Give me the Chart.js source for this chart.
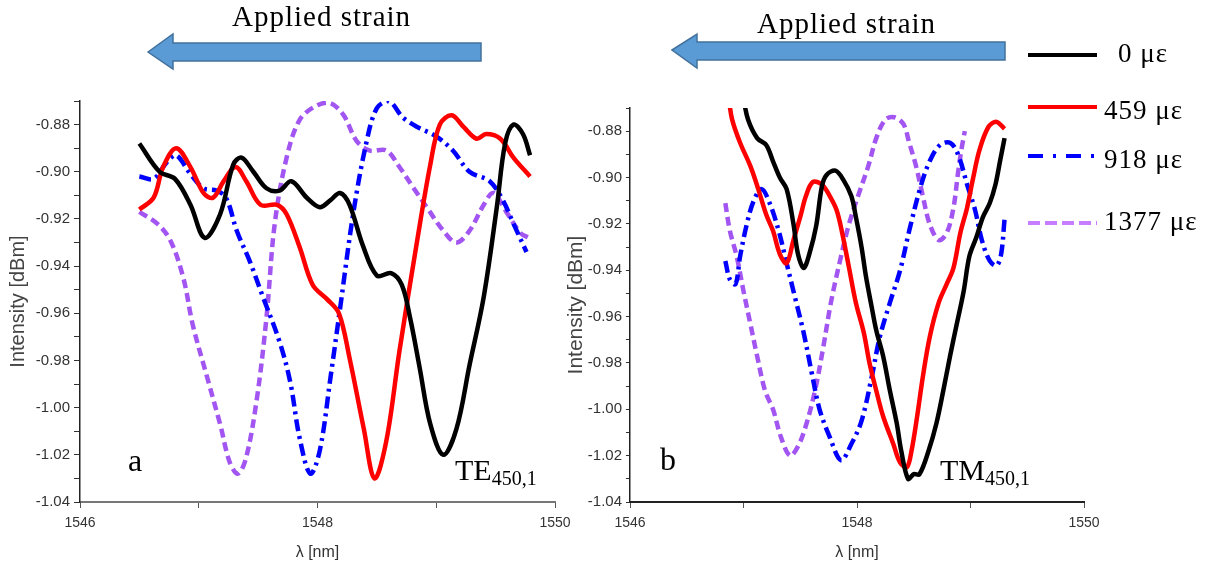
<!DOCTYPE html>
<html>
<head>
<meta charset="utf-8">
<script src="https://cdn.jsdelivr.net/npm/chart.js"></script>
<style>
  body { margin: 0; background: #fff; }
  #wrap { position: relative; width: 1210px; height: 567px; overflow: hidden; }
  canvas { position: absolute; top: 0; }
  #chartTE { left: 0; }
  #chartTM { left: 560px; }
  #deco { position: absolute; left: 0; top: 0; }
  .txt { position: absolute; font-family: "Liberation Serif", serif; color: #000; white-space: nowrap; line-height: 1; }
  .txt sub { font-size: 20px; vertical-align: -5px; }
</style>
</head>
<body>
<div id="wrap">
  <canvas id="chartTE" width="580" height="567"></canvas>
  <canvas id="chartTM" width="650" height="567"></canvas>

  <svg id="deco" width="1210" height="567">
    <!-- strain arrows -->
    <polygon points="148,52 173,34 173,43 481,43 481,61 173,61 173,69" fill="#5b9bd5" stroke="#41719c" stroke-width="1.5"/>
    <polygon points="672,50 697,34 697,42 1005,42 1005,60 697,60 697,68" fill="#5b9bd5" stroke="#41719c" stroke-width="1.5"/>
    <!-- legend lines -->
    <line x1="1028" y1="55" x2="1097" y2="55" stroke="#000" stroke-width="4"/>
    <line x1="1028" y1="107" x2="1097" y2="107" stroke="#ff0000" stroke-width="4"/>
    <line x1="1028" y1="156" x2="1100" y2="156" stroke="#0000ff" stroke-width="4" stroke-dasharray="15 10 3 10"/>
    <line x1="1028" y1="223" x2="1097" y2="223" stroke="#c77dff" stroke-width="4" stroke-dasharray="12 5"/>
  </svg>

  <div class="txt" style="left:232px; top:2px; font-size:29px; letter-spacing:1px;">Applied strain</div>
  <div class="txt" style="left:757px; top:9px; font-size:29px; letter-spacing:1px;">Applied strain</div>

  <div class="txt" style="left:1118px; top:40px; font-size:27px; letter-spacing:1px;">0 με</div>
  <div class="txt" style="left:1104px; top:97px; font-size:27px; letter-spacing:1px;">459 με</div>
  <div class="txt" style="left:1104px; top:146px; font-size:27px; letter-spacing:1px;">918 με</div>
  <div class="txt" style="left:1104px; top:208px; font-size:27px; letter-spacing:1px;">1377 με</div>

  <div class="txt" style="left:128px; top:444px; font-size:32px;">a</div>
  <div class="txt" style="left:660px; top:443px; font-size:32px;">b</div>
  <div class="txt" style="left:455px; top:455px; font-size:30px;">TE<sub>450,1</sub></div>
  <div class="txt" style="left:940px; top:455px; font-size:30px;">TM<sub>450,1</sub></div>
</div>

<script>
// TE450,1 panel (a)
const teX0 = [1546.50, 1546.67, 1546.80, 1546.93, 1547.05, 1547.18, 1547.29, 1547.36, 1547.46, 1547.57, 1547.68, 1547.78, 1547.91, 1548.02, 1548.11, 1548.19, 1548.27, 1548.38, 1548.50, 1548.62, 1548.71, 1548.78, 1548.86, 1548.95, 1549.06, 1549.17, 1549.28, 1549.40, 1549.51, 1549.58, 1549.65, 1549.73, 1549.79];
const teY0 = [-0.888, -0.900, -0.903, -0.914, -0.928, -0.918, -0.897, -0.894, -0.900, -0.907, -0.908, -0.904, -0.911, -0.915, -0.912, -0.909, -0.914, -0.931, -0.944, -0.943, -0.948, -0.962, -0.983, -1.007, -1.020, -1.009, -0.982, -0.953, -0.915, -0.888, -0.880, -0.884, -0.893];

const teX459 = [1546.50, 1546.62, 1546.70, 1546.81, 1546.93, 1547.04, 1547.12, 1547.21, 1547.31, 1547.40, 1547.52, 1547.66, 1547.74, 1547.85, 1547.96, 1548.08, 1548.18, 1548.27, 1548.39, 1548.48, 1548.58, 1548.69, 1548.84, 1548.95, 1549.03, 1549.13, 1549.23, 1549.34, 1549.42, 1549.54, 1549.65, 1549.79];
const teY459 = [-0.916, -0.911, -0.898, -0.890, -0.898, -0.909, -0.911, -0.904, -0.898, -0.904, -0.914, -0.914, -0.918, -0.932, -0.948, -0.954, -0.960, -0.979, -1.009, -1.030, -1.014, -0.976, -0.929, -0.897, -0.880, -0.876, -0.881, -0.886, -0.884, -0.886, -0.894, -0.902];

const teX918 = [1546.50, 1546.62, 1546.73, 1546.81, 1546.93, 1547.04, 1547.15, 1547.23, 1547.32, 1547.43, 1547.54, 1547.68, 1547.77, 1547.85, 1547.94, 1548.02, 1548.11, 1548.19, 1548.30, 1548.41, 1548.50, 1548.60, 1548.72, 1548.84, 1549.00, 1549.14, 1549.28, 1549.45, 1549.56, 1549.65, 1549.76];
const teY918 = [-0.902, -0.903, -0.896, -0.893, -0.901, -0.907, -0.908, -0.911, -0.925, -0.938, -0.953, -0.972, -0.989, -1.013, -1.028, -1.018, -0.987, -0.958, -0.918, -0.888, -0.873, -0.870, -0.877, -0.881, -0.885, -0.891, -0.900, -0.904, -0.912, -0.922, -0.934];

const teX1377 = [1546.50, 1546.65, 1546.76, 1546.87, 1546.95, 1547.07, 1547.18, 1547.26, 1547.33, 1547.40, 1547.49, 1547.57, 1547.64, 1547.74, 1547.85, 1547.99, 1548.11, 1548.22, 1548.33, 1548.44, 1548.58, 1548.69, 1548.81, 1548.92, 1549.06, 1549.17, 1549.28, 1549.40, 1549.48, 1549.59, 1549.71, 1549.78];
const teY1377 = [-0.917, -0.922, -0.929, -0.945, -0.965, -0.987, -1.007, -1.023, -1.028, -1.021, -0.996, -0.962, -0.922, -0.894, -0.878, -0.872, -0.871, -0.876, -0.887, -0.891, -0.891, -0.898, -0.907, -0.915, -0.925, -0.930, -0.925, -0.914, -0.909, -0.917, -0.926, -0.928];

// TM450,1 panel (b)
const tmX0 = [1547.00, 1547.04, 1547.12, 1547.20, 1547.26, 1547.32, 1547.38, 1547.44, 1547.48, 1547.53, 1547.58, 1547.64, 1547.69, 1547.73, 1547.81, 1547.88, 1547.95, 1547.99, 1548.04, 1548.08, 1548.13, 1548.17, 1548.23, 1548.29, 1548.35, 1548.39, 1548.45, 1548.50, 1548.55, 1548.63, 1548.70, 1548.76, 1548.82, 1548.88, 1548.94, 1548.99, 1549.05, 1549.11, 1549.17, 1549.22, 1549.26, 1549.30];
const tmY0 = [-0.866, -0.875, -0.883, -0.886, -0.893, -0.900, -0.905, -0.920, -0.933, -0.939, -0.933, -0.921, -0.904, -0.899, -0.897, -0.901, -0.908, -0.917, -0.930, -0.943, -0.956, -0.966, -0.977, -0.992, -1.006, -1.018, -1.030, -1.028, -1.028, -1.018, -1.006, -0.992, -0.977, -0.963, -0.949, -0.934, -0.926, -0.917, -0.911, -0.903, -0.893, -0.883];

const tmX459 = [1546.87, 1546.90, 1546.97, 1547.06, 1547.13, 1547.20, 1547.26, 1547.32, 1547.38, 1547.44, 1547.50, 1547.55, 1547.61, 1547.69, 1547.76, 1547.82, 1547.87, 1547.93, 1547.99, 1548.06, 1548.11, 1548.17, 1548.23, 1548.32, 1548.38, 1548.44, 1548.48, 1548.53, 1548.58, 1548.64, 1548.72, 1548.79, 1548.85, 1548.91, 1548.97, 1549.02, 1549.08, 1549.16, 1549.23, 1549.30];
const tmY459 = [-0.866, -0.875, -0.885, -0.895, -0.905, -0.916, -0.923, -0.933, -0.937, -0.927, -0.917, -0.908, -0.902, -0.903, -0.908, -0.914, -0.924, -0.939, -0.954, -0.967, -0.980, -0.992, -1.003, -1.015, -1.023, -1.025, -1.018, -1.003, -0.986, -0.969, -0.954, -0.946, -0.939, -0.924, -0.913, -0.901, -0.888, -0.878, -0.876, -0.879];

const tmX918 = [1546.84, 1546.88, 1546.93, 1546.97, 1547.03, 1547.09, 1547.16, 1547.23, 1547.31, 1547.38, 1547.45, 1547.53, 1547.60, 1547.67, 1547.76, 1547.86, 1547.95, 1548.04, 1548.13, 1548.20, 1548.29, 1548.38, 1548.46, 1548.56, 1548.64, 1548.73, 1548.82, 1548.89, 1548.97, 1549.04, 1549.10, 1549.17, 1549.23, 1549.27, 1549.30];
const tmY918 = [-0.936, -0.944, -0.946, -0.934, -0.920, -0.910, -0.905, -0.911, -0.923, -0.937, -0.951, -0.967, -0.984, -1.000, -1.012, -1.022, -1.015, -1.005, -0.986, -0.969, -0.954, -0.940, -0.923, -0.904, -0.893, -0.886, -0.885, -0.890, -0.903, -0.914, -0.927, -0.936, -0.938, -0.933, -0.918];

const tmX1377 = [1546.84, 1546.88, 1546.94, 1547.00, 1547.06, 1547.12, 1547.19, 1547.26, 1547.33, 1547.41, 1547.48, 1547.55, 1547.63, 1547.70, 1547.77, 1547.85, 1547.93, 1548.03, 1548.10, 1548.17, 1548.25, 1548.33, 1548.41, 1548.46, 1548.52, 1548.58, 1548.64, 1548.72, 1548.79, 1548.85, 1548.89, 1548.92, 1548.95];
const tmY1377 = [-0.911, -0.923, -0.934, -0.949, -0.963, -0.977, -0.992, -1.000, -1.012, -1.020, -1.016, -1.007, -0.992, -0.974, -0.954, -0.936, -0.920, -0.905, -0.895, -0.883, -0.875, -0.874, -0.877, -0.885, -0.895, -0.908, -0.920, -0.927, -0.924, -0.913, -0.898, -0.888, -0.880];

const strainLabels = ["0 με", "459 με", "918 με", "1377 με"];
const xTicks = [1546, 1548, 1550];

// zip x and y arrays into points
function pts(xs, ys) {
    return xs.map((x, i) => ({ x: x, y: ys[i] }));
}

function sets(series) {
    const colors = ["#000000", "#ff0000", "#0000ff", "#a355f2"];
    const dashes = [[], [], [12, 5, 3, 5], [9, 5]];
    return series.map((s, i) => ({
        label: strainLabels[i],
        data: pts(s[0], s[1]),
        borderColor: colors[i],
        borderWidth: 4.5,
        borderDash: dashes[i],
        pointRadius: 0,
        fill: false,
        tension: 0.35
    }));
}

function scales(yWidth, yTitleSize, yTitlePad, xBorder, yTickLen) {
    return {
        x: {
            type: "linear",
            min: 1546,
            max: 1550,
            ticks: {
                stepSize: 1,
                autoSkip: false,
                maxRotation: 0,
                padding: 7,
                color: "#333",
                font: { family: "Liberation Sans", size: 14 },
                callback: v => xTicks.includes(v) ? String(v) : ""
            },
            grid: { drawOnChartArea: false, tickLength: 6, color: "#555" },
            border: { color: xBorder, width: 2 },
            title: {
                display: true,
                text: "λ [nm]",
                color: "#333",
                font: { family: "Liberation Sans", size: 16 },
                padding: { top: 0, bottom: 5 }
            },
            afterFit: s => { s.height = 65; }
        },
        y: {
            min: -1.04,
            max: -0.87,
            ticks: {
                stepSize: 0.01,
                autoSkip: false,
                padding: 4,
                color: "#333",
                font: { family: "Liberation Sans", size: 15 },
                callback: v => Math.round(v * 100) % 2 === 0 ? v.toFixed(2) : ""
            },
            grid: { drawOnChartArea: false, tickLength: yTickLen, color: "#333" },
            border: { color: "#222", width: 1.5 },
            title: {
                display: true,
                text: "Intensity [dBm]",
                color: "#444",
                font: { family: "Liberation Sans", size: yTitleSize },
                padding: { top: yTitlePad, bottom: 0 }
            },
            afterFit: s => { s.width = yWidth; }
        }
    };
}

new Chart("chartTE", {
    type: "line",
    data: {
        datasets: sets([[teX0, teY0], [teX459, teY459], [teX918, teY918], [teX1377, teY1377]])
    },
    options: {
        responsive: false,
        animation: false,
        devicePixelRatio: 1,
        layout: { padding: { top: 101, right: 25, bottom: 0, left: 0 } },
        scales: scales(80, 20, 6, "#777", 6),
        plugins: { legend: { display: false }, tooltip: { enabled: false } }
    }
});

new Chart("chartTM", {
    type: "line",
    data: {
        datasets: sets([[tmX0, tmY0], [tmX459, tmY459], [tmX918, tmY918], [tmX1377, tmY1377]])
    },
    options: {
        responsive: false,
        animation: false,
        devicePixelRatio: 1,
        layout: { padding: { top: 108, right: 126, bottom: 0, left: 0 } },
        scales: scales(70, 21, 4, "#222", 4),
        plugins: { legend: { display: false }, tooltip: { enabled: false } }
    }
});
</script>
</body>
</html>
